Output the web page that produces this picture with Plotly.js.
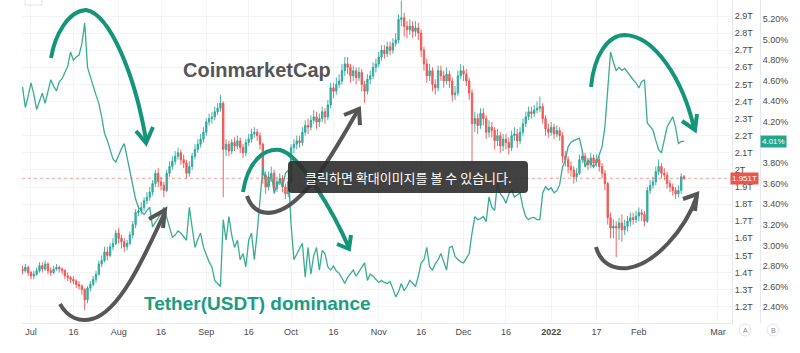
<!DOCTYPE html>
<html><head><meta charset="utf-8">
<script src="https://cdn.plot.ly/plotly-3.0.1.min.js"></script>
<style>html,body{margin:0;padding:0;background:#fff}#c{width:800px;height:353px}</style>
</head><body><div id="c"></div>
<script>
// Daily candles from 2021-06-28 (total crypto market cap, trillions USD)
const startDate = '2021-06-28';
const capOpen = [
1.42,1.41,1.43,1.40,1.38,1.39,1.41,1.44,1.42,1.45,
1.41,1.40,1.42,1.43,1.42,1.41,1.38,1.37,1.36,1.35,
1.33,1.32,1.30,1.24,1.31,1.33,1.36,1.39,1.45,1.47,
1.52,1.50,1.55,1.57,1.63,1.60,1.58,1.55,1.57,1.62,
1.68,1.75,1.76,1.78,1.82,1.84,1.87,1.92,1.98,1.93,
1.91,1.88,1.98,2.02,2.05,2.08,2.10,2.06,2.04,1.98,
2.02,2.08,2.12,2.15,2.18,2.22,2.28,2.30,2.31,2.34,
2.36,2.39,2.12,2.15,2.11,2.16,2.14,2.17,2.13,2.10,
2.16,2.18,2.21,2.22,2.20,2.15,1.97,1.90,1.96,1.98,
1.89,1.93,1.95,1.90,1.86,1.93,2.13,2.15,2.17,2.16,
2.22,2.26,2.25,2.29,2.31,2.28,2.30,2.34,2.31,2.38,
2.48,2.46,2.50,2.52,2.58,2.62,2.60,2.55,2.58,2.54,
2.57,2.50,2.46,2.53,2.55,2.60,2.62,2.66,2.70,2.68,
2.72,2.70,2.74,2.76,2.88,2.89,2.84,2.82,2.84,2.81,
2.83,2.80,2.70,2.62,2.55,2.58,2.50,2.48,2.58,2.55,
2.52,2.56,2.52,2.44,2.45,2.55,2.58,2.56,2.52,2.45,
2.27,2.30,2.26,2.33,2.30,2.22,2.25,2.23,2.17,2.20,
2.14,2.18,2.16,2.13,2.20,2.21,2.17,2.22,2.27,2.31,
2.34,2.33,2.35,2.36,2.37,2.30,2.24,2.22,2.25,2.21,
2.23,2.20,2.08,2.06,2.02,2.00,1.96,1.98,2.06,2.08,
2.05,2.03,2.07,2.04,2.06,2.02,1.98,1.92,1.72,1.66,
1.67,1.66,1.69,1.65,1.67,1.70,1.72,1.71,1.73,1.75,
1.74,1.70,1.88,1.91,1.93,1.99,2.02,1.98,1.97,1.92,
1.90,1.88,1.86,1.88,1.96];
const capHigh = [
1.44,1.45,1.44,1.41,1.41,1.43,1.46,1.46,1.47,1.46,
1.43,1.44,1.45,1.44,1.43,1.42,1.40,1.38,1.38,1.36,
1.35,1.33,1.31,1.32,1.35,1.38,1.41,1.47,1.50,1.55,
1.55,1.57,1.60,1.65,1.66,1.62,1.60,1.59,1.64,1.70,
1.77,1.79,1.81,1.84,1.87,1.90,1.94,2.00,2.01,1.96,
1.93,2.00,2.05,2.08,2.11,2.13,2.12,2.09,2.06,2.05,
2.10,2.15,2.18,2.21,2.25,2.30,2.33,2.34,2.37,2.39,
2.44,2.40,2.18,2.17,2.18,2.19,2.20,2.19,2.15,2.18,
2.21,2.24,2.25,2.24,2.22,2.16,1.99,1.99,2.02,2.00,
1.96,1.98,1.97,1.92,1.95,2.15,2.18,2.20,2.20,2.25,
2.29,2.30,2.32,2.35,2.34,2.33,2.37,2.36,2.41,2.51,
2.51,2.54,2.56,2.62,2.66,2.66,2.62,2.61,2.60,2.60,
2.59,2.52,2.56,2.58,2.63,2.65,2.69,2.73,2.73,2.75,
2.75,2.77,2.80,2.91,2.99,2.92,2.87,2.88,2.87,2.87,
2.86,2.82,2.72,2.65,2.62,2.60,2.53,2.61,2.61,2.58,
2.60,2.58,2.54,2.49,2.58,2.62,2.61,2.59,2.54,2.47,
2.34,2.33,2.36,2.36,2.32,2.29,2.28,2.25,2.24,2.22,
2.21,2.21,2.19,2.23,2.25,2.24,2.25,2.30,2.34,2.37,
2.37,2.38,2.40,2.43,2.39,2.32,2.27,2.28,2.27,2.26,
2.25,2.22,2.11,2.08,2.05,2.02,2.01,2.09,2.11,2.10,
2.07,2.10,2.09,2.09,2.08,2.04,2.00,1.93,1.75,1.71,
1.70,1.72,1.74,1.71,1.73,1.75,1.75,1.76,1.78,1.77,
1.76,1.90,1.94,1.96,2.02,2.06,2.04,2.01,1.99,1.94,
1.92,1.90,1.91,1.98,1.97];
const capLow = [
1.39,1.40,1.38,1.36,1.36,1.38,1.40,1.40,1.41,1.39,
1.38,1.39,1.41,1.40,1.39,1.36,1.35,1.34,1.33,1.31,
1.30,1.27,1.18,1.22,1.29,1.32,1.34,1.38,1.43,1.46,
1.47,1.49,1.53,1.56,1.57,1.54,1.52,1.53,1.56,1.60,
1.66,1.73,1.74,1.76,1.80,1.82,1.85,1.90,1.90,1.88,
1.84,1.87,1.96,2.00,2.03,2.06,2.03,2.01,1.95,1.96,
2.00,2.06,2.10,2.13,2.16,2.20,2.26,2.27,2.29,2.32,
2.34,1.84,2.08,2.08,2.09,2.11,2.12,2.10,2.07,2.08,
2.14,2.16,2.19,2.17,2.12,1.92,1.86,1.88,1.93,1.86,
1.87,1.91,1.87,1.83,1.84,1.92,2.10,2.12,2.13,2.14,
2.20,2.21,2.23,2.27,2.24,2.25,2.28,2.27,2.29,2.36,
2.42,2.44,2.48,2.50,2.55,2.56,2.51,2.52,2.50,2.52,
2.46,2.39,2.44,2.50,2.53,2.57,2.60,2.64,2.65,2.66,
2.67,2.68,2.72,2.74,2.84,2.78,2.77,2.79,2.77,2.78,
2.76,2.66,2.58,2.51,2.52,2.46,2.44,2.46,2.52,2.48,
2.50,2.48,2.40,2.41,2.43,2.53,2.52,2.49,2.41,2.04,
2.22,2.21,2.24,2.26,2.18,2.19,2.19,2.12,2.14,2.10,
2.11,2.12,2.09,2.11,2.17,2.13,2.15,2.20,2.25,2.29,
2.30,2.31,2.33,2.34,2.27,2.20,2.19,2.20,2.18,2.19,
2.17,2.04,2.02,1.98,1.96,1.92,1.93,1.97,2.04,2.02,
2.00,2.01,2.01,2.02,1.99,1.95,1.88,1.68,1.60,1.60,
1.49,1.59,1.58,1.62,1.64,1.67,1.68,1.69,1.70,1.70,
1.67,1.69,1.86,1.89,1.91,1.97,1.95,1.94,1.89,1.87,
1.85,1.83,1.84,1.86,1.94];
const capClose = [
1.41,1.43,1.40,1.38,1.39,1.41,1.44,1.42,1.45,1.41,
1.40,1.42,1.43,1.42,1.41,1.38,1.37,1.36,1.35,1.33,
1.32,1.30,1.24,1.31,1.33,1.36,1.39,1.45,1.47,1.52,
1.50,1.55,1.57,1.63,1.60,1.58,1.55,1.57,1.62,1.68,
1.75,1.76,1.78,1.82,1.84,1.87,1.92,1.98,1.93,1.91,
1.88,1.98,2.02,2.05,2.08,2.10,2.06,2.04,1.98,2.02,
2.08,2.12,2.15,2.18,2.22,2.28,2.30,2.31,2.34,2.36,
2.39,2.12,2.15,2.11,2.16,2.14,2.17,2.13,2.10,2.16,
2.18,2.21,2.22,2.20,2.15,1.97,1.90,1.96,1.98,1.89,
1.93,1.95,1.90,1.86,1.93,2.13,2.15,2.17,2.16,2.22,
2.26,2.25,2.29,2.31,2.28,2.30,2.34,2.31,2.38,2.48,
2.46,2.50,2.52,2.58,2.62,2.60,2.55,2.58,2.54,2.57,
2.50,2.46,2.53,2.55,2.60,2.62,2.66,2.70,2.68,2.72,
2.70,2.74,2.76,2.88,2.89,2.84,2.82,2.84,2.81,2.83,
2.80,2.70,2.62,2.55,2.58,2.50,2.48,2.58,2.55,2.52,
2.56,2.52,2.44,2.45,2.55,2.58,2.56,2.52,2.45,2.27,
2.30,2.26,2.33,2.30,2.22,2.25,2.23,2.17,2.20,2.14,
2.18,2.16,2.13,2.20,2.21,2.17,2.22,2.27,2.31,2.34,
2.33,2.35,2.36,2.37,2.30,2.24,2.22,2.25,2.21,2.23,
2.20,2.08,2.06,2.02,2.00,1.96,1.98,2.06,2.08,2.05,
2.03,2.07,2.04,2.06,2.02,1.98,1.92,1.72,1.66,1.67,
1.66,1.69,1.65,1.67,1.70,1.72,1.71,1.73,1.75,1.74,
1.70,1.88,1.91,1.93,1.99,2.02,1.98,1.97,1.92,1.90,
1.88,1.86,1.88,1.96,1.951];
// Tether (USDT) dominance, percent
const usdtDominance = [
4.54,4.34,4.45,4.58,4.47,4.32,4.40,4.48,4.38,4.50,
4.61,4.55,4.50,4.59,4.62,4.68,4.74,4.88,4.80,4.83,
4.85,4.96,5.16,4.73,4.65,4.55,4.46,4.38,4.25,4.09,
4.02,3.92,3.84,3.81,3.88,3.94,3.99,3.85,3.72,3.58,
3.45,3.37,3.33,3.30,3.34,3.37,3.18,3.22,3.27,3.31,
3.37,3.28,3.17,3.08,3.10,3.14,3.12,3.08,3.05,3.37,
3.15,2.98,3.06,3.12,2.98,2.91,2.84,2.79,2.66,2.63,
2.60,3.25,3.05,3.28,3.10,2.98,3.05,2.86,2.92,2.79,
3.05,3.12,2.86,3.12,3.44,3.76,3.62,3.57,3.70,3.51,
3.58,3.63,3.57,3.70,3.73,3.20,2.86,2.92,2.97,3.02,
2.69,2.98,2.72,2.90,2.98,2.76,2.95,2.92,2.79,2.76,
2.80,2.75,2.73,2.68,2.63,2.69,2.72,2.76,2.70,2.74,
2.79,2.83,2.66,2.72,2.70,2.67,2.64,2.66,2.64,2.63,
2.65,2.58,2.50,2.55,2.63,2.56,2.60,2.66,2.63,2.60,
2.70,2.83,2.86,2.98,2.79,2.76,2.82,2.86,2.92,2.83,
2.76,2.98,2.99,2.89,2.86,2.84,2.83,2.88,2.92,3.12,
3.28,3.25,3.26,3.28,3.23,3.47,3.37,3.34,3.61,3.50,
3.47,3.41,3.50,3.54,3.47,3.49,3.51,3.37,3.28,3.25,
3.27,3.27,3.25,3.25,3.51,3.57,3.54,3.56,3.51,3.53,
3.59,3.76,3.83,3.96,4.00,4.02,4.03,4.04,3.92,3.76,
3.83,3.79,3.76,3.80,3.88,3.96,4.15,4.48,4.88,4.78,
4.70,4.73,4.70,4.72,4.68,4.64,4.61,4.58,4.53,4.59,
4.61,4.19,4.15,4.12,4.02,3.93,3.90,4.02,4.15,4.20,
4.25,4.15,3.99,4.01,4.01];

const xTickVals = ['2021-07-01','2021-07-16','2021-08-01','2021-08-16','2021-09-01','2021-09-16','2021-10-01','2021-10-16','2021-11-01','2021-11-16','2021-12-01','2021-12-16','2022-01-01','2022-01-17','2022-02-01','2022-03-01'];
const xTickText = ['Jul','16','Aug','16','Sep','16','Oct','16','Nov','16','Dec','16','<b>2022</b>','17','Feb','Mar'];
const capTickVals = [1.2,1.3,1.4,1.5,1.6,1.7,1.8,1.9,2.0,2.1,2.2,2.3,2.4,2.5,2.6,2.7,2.8,2.9];
const capTickText = ['1.2T','1.3T','1.4T','1.5T','1.6T','1.7T','1.8T','1.9T','2T','2.1T','2.2T','2.3T','2.4T','2.5T','2.6T','2.7T','2.8T','2.9T'];
const domTickVals = [2.4,2.6,2.8,3.0,3.2,3.4,3.6,3.8,4.2,4.4,4.6,4.8,5.0,5.2];
const domTickText = ['2.40%','2.60%','2.80%','3.00%','3.20%','3.40%','3.60%','3.80%','4.20%','4.40%','4.60%','4.80%','5.00%','5.20%'];
const lastCap = 1.951, lastDom = 4.01;

const dates = [];
const t0 = Date.parse(startDate + 'T00:00:00Z');
for (let i = 0; i < capClose.length; i++) dates.push(new Date(t0 + i * 86400000).toISOString().slice(0, 10));

// pixel -> paper helpers (plot paper: x 22..790, y 0..323)
const L = 22, PW = 768, PH = 323;
const px = x => (x - L) / PW;
const py = y => (PH - y) / PH;
function path(cmds) {
  return cmds.map(c => {
    const pts = [];
    for (let i = 1; i < c.length; i += 2) pts.push(px(c[i]).toFixed(5) + ',' + py(c[i + 1]).toFixed(5));
    return c[0] + ' ' + pts.join(' ');
  }).join(' ');
}
const teal = '#14957a', gray = '#565656';
function arrowShapes(curve, head, color) {
  return [
    {type: 'path', xref: 'paper', yref: 'paper', path: path(curve), line: {color: color, width: 4}, layer: 'above'},
    {type: 'path', xref: 'paper', yref: 'paper', path: path(head), line: {color: color, width: 4}, layer: 'above'}
  ];
}
const shapes = [
  {type: 'line', xref: 'paper', yref: 'y', x0: 0, x1: px(732), y0: lastCap, y1: lastCap, line: {color: 'rgba(239,83,80,0.55)', width: 1, dash: 'dot'}},
  ...arrowShapes([['M',51,58],['C',55,35,68,11,86,10],['C',110,14,135,75,146,140]], [['M',136,131],['L',146,143],['L',153,127]], teal),
  ...arrowShapes([['M',60,304],['C',68,318,80,322,92,319],['C',120,312,145,255,165,212]], [['M',149,219],['L',165,210],['L',163,228]], gray),
  ...arrowShapes([['M',243,192],['C',248,160,265,148,280,150],['C',300,154,335,215,349,248]], [['M',337,244],['L',349,249],['L',351,235]], teal),
  ...arrowShapes([['M',247,196],['C',252,210,262,215,275,212],['C',305,205,335,150,358,110]], [['M',344,115],['L',359,109],['L',360,125]], gray),
  ...arrowShapes([['M',591,87],['C',594,55,608,35,625,35],['C',655,36,683,80,694,128]], [['M',682,121],['L',695,130],['L',697,114]], teal),
  ...arrowShapes([['M',596,247],['C',600,262,612,270,628,268],['C',655,264,685,230,697,196]], [['M',683,199],['L',697,194],['L',695,211]], gray),
  {type: 'path', xref: 'paper', yref: 'paper', fillcolor: 'rgba(44,44,44,0.9)', line: {width: 0},
   path: path([['M',292,161],['L',524,161],['Q',528,161,528,165],['L',528,189],['Q',528,193,524,193],['L',292,193],['Q',288,193,288,189],['L',288,165],['Q',288,161,292,161],['Z']]), layer: 'above'},
  {type: 'circle', xref: 'paper', yref: 'paper', x0: px(739), x1: px(751), y0: py(336), y1: py(324), line: {color: '#e0e3eb', width: 1}},
  {type: 'circle', xref: 'paper', yref: 'paper', x0: px(767), x1: px(779), y0: py(336), y1: py(324), line: {color: '#e0e3eb', width: 1}},
  {type: 'path', xref: 'paper', yref: 'paper', fillcolor: '#ffffff', line: {color: '#dfe2ea', width: 1},
   path: path([['M',25,-2],['L',42,-2],['L',42,5],['L',25,5],['Z']])}
];
const ann = (x, y, text, font, extra) => Object.assign({xref: 'paper', yref: 'paper', x: x, y: y, text: text, showarrow: false, xanchor: 'center', yanchor: 'middle', font: font}, extra || {});
const annotations = [
  ann(px(257), py(70), '<b>CoinmarketCap</b>', {family: 'Liberation Sans, Arial', size: 20, color: '#555555'}),
  ann(px(257), py(303), '<b>Tether(USDT) dominance</b>', {family: 'Liberation Sans, Arial', size: 19, color: '#1a9d7f'}),
  ann(px(408), py(177), '클릭하면 확대이미지를 볼 수 있습니다.', {family: 'Noto Sans CJK KR', size: 13, color: '#ffffff'}),
  ann(px(744), lastCap, '1.951T', {family: 'Liberation Sans, Arial', size: 8, color: '#ffffff'}, {yref: 'y', bgcolor: '#ef5350', borderpad: 1}),
  ann(px(773), lastDom, '4.01%', {family: 'Liberation Sans, Arial', size: 8, color: '#ffffff'}, {yref: 'y2', bgcolor: '#22a78f', borderpad: 1}),
  ann(px(745), py(330), 'A', {family: 'Liberation Sans, Arial', size: 7, color: '#888'}),
  ann(px(773), py(330), 'B', {family: 'Liberation Sans, Arial', size: 7, color: '#888'})
];

const traces = [
  {type: 'candlestick', x: dates, open: capOpen, high: capHigh, low: capLow, close: capClose, yaxis: 'y',
   increasing: {line: {color: 'rgba(38,166,154,0.85)', width: 1}, fillcolor: 'rgba(38,166,154,0.85)'},
   decreasing: {line: {color: 'rgba(239,83,80,0.9)', width: 1}, fillcolor: 'rgba(239,83,80,0.9)'},
   whiskerwidth: 0, hoverinfo: 'skip', showlegend: false},
  {type: 'scatter', mode: 'lines', x: dates, y: usdtDominance, yaxis: 'y2', line: {color: 'rgb(58,172,148)', width: 1.3}, hoverinfo: 'skip', showlegend: false}
];
const tickFont = {family: 'Liberation Sans, Arial', size: 9, color: '#4a4a4a'};
const layout = {
  width: 800, height: 353, margin: {l: L, r: 800 - L - PW, t: 0, b: 353 - PH},
  paper_bgcolor: '#ffffff', plot_bgcolor: '#ffffff', showlegend: false, hovermode: false,
  xaxis: {type: 'date', domain: [0, px(732)], range: ['2021-06-27 19:40', '2022-03-05 23:00'],
          tickvals: xTickVals, ticktext: xTickText, tickfont: tickFont, showgrid: true, gridcolor: '#f2f4f8',
          showline: true, linecolor: '#e6e8ee', ticks: '', zeroline: false, rangeslider: {visible: false}, automargin: false},
  yaxis: {side: 'right', anchor: 'x', range: [1.1047, 2.9936], tickvals: capTickVals, ticktext: capTickText,
          tickfont: tickFont, showgrid: true, gridcolor: '#f2f4f8', showline: true, linecolor: '#e6e8ee', ticks: '', zeroline: false, automargin: false},
  yaxis2: {side: 'right', overlaying: 'y', anchor: 'free', position: px(760), range: [2.2457, 5.3846],
           tickvals: domTickVals, ticktext: domTickText, tickfont: tickFont, showgrid: false, showline: true, linecolor: '#e6e8ee', ticks: '', zeroline: false, automargin: false},
  shapes: shapes, annotations: annotations
};
Plotly.newPlot('c', traces, layout, {displayModeBar: false, staticPlot: true});
</script></body></html>
